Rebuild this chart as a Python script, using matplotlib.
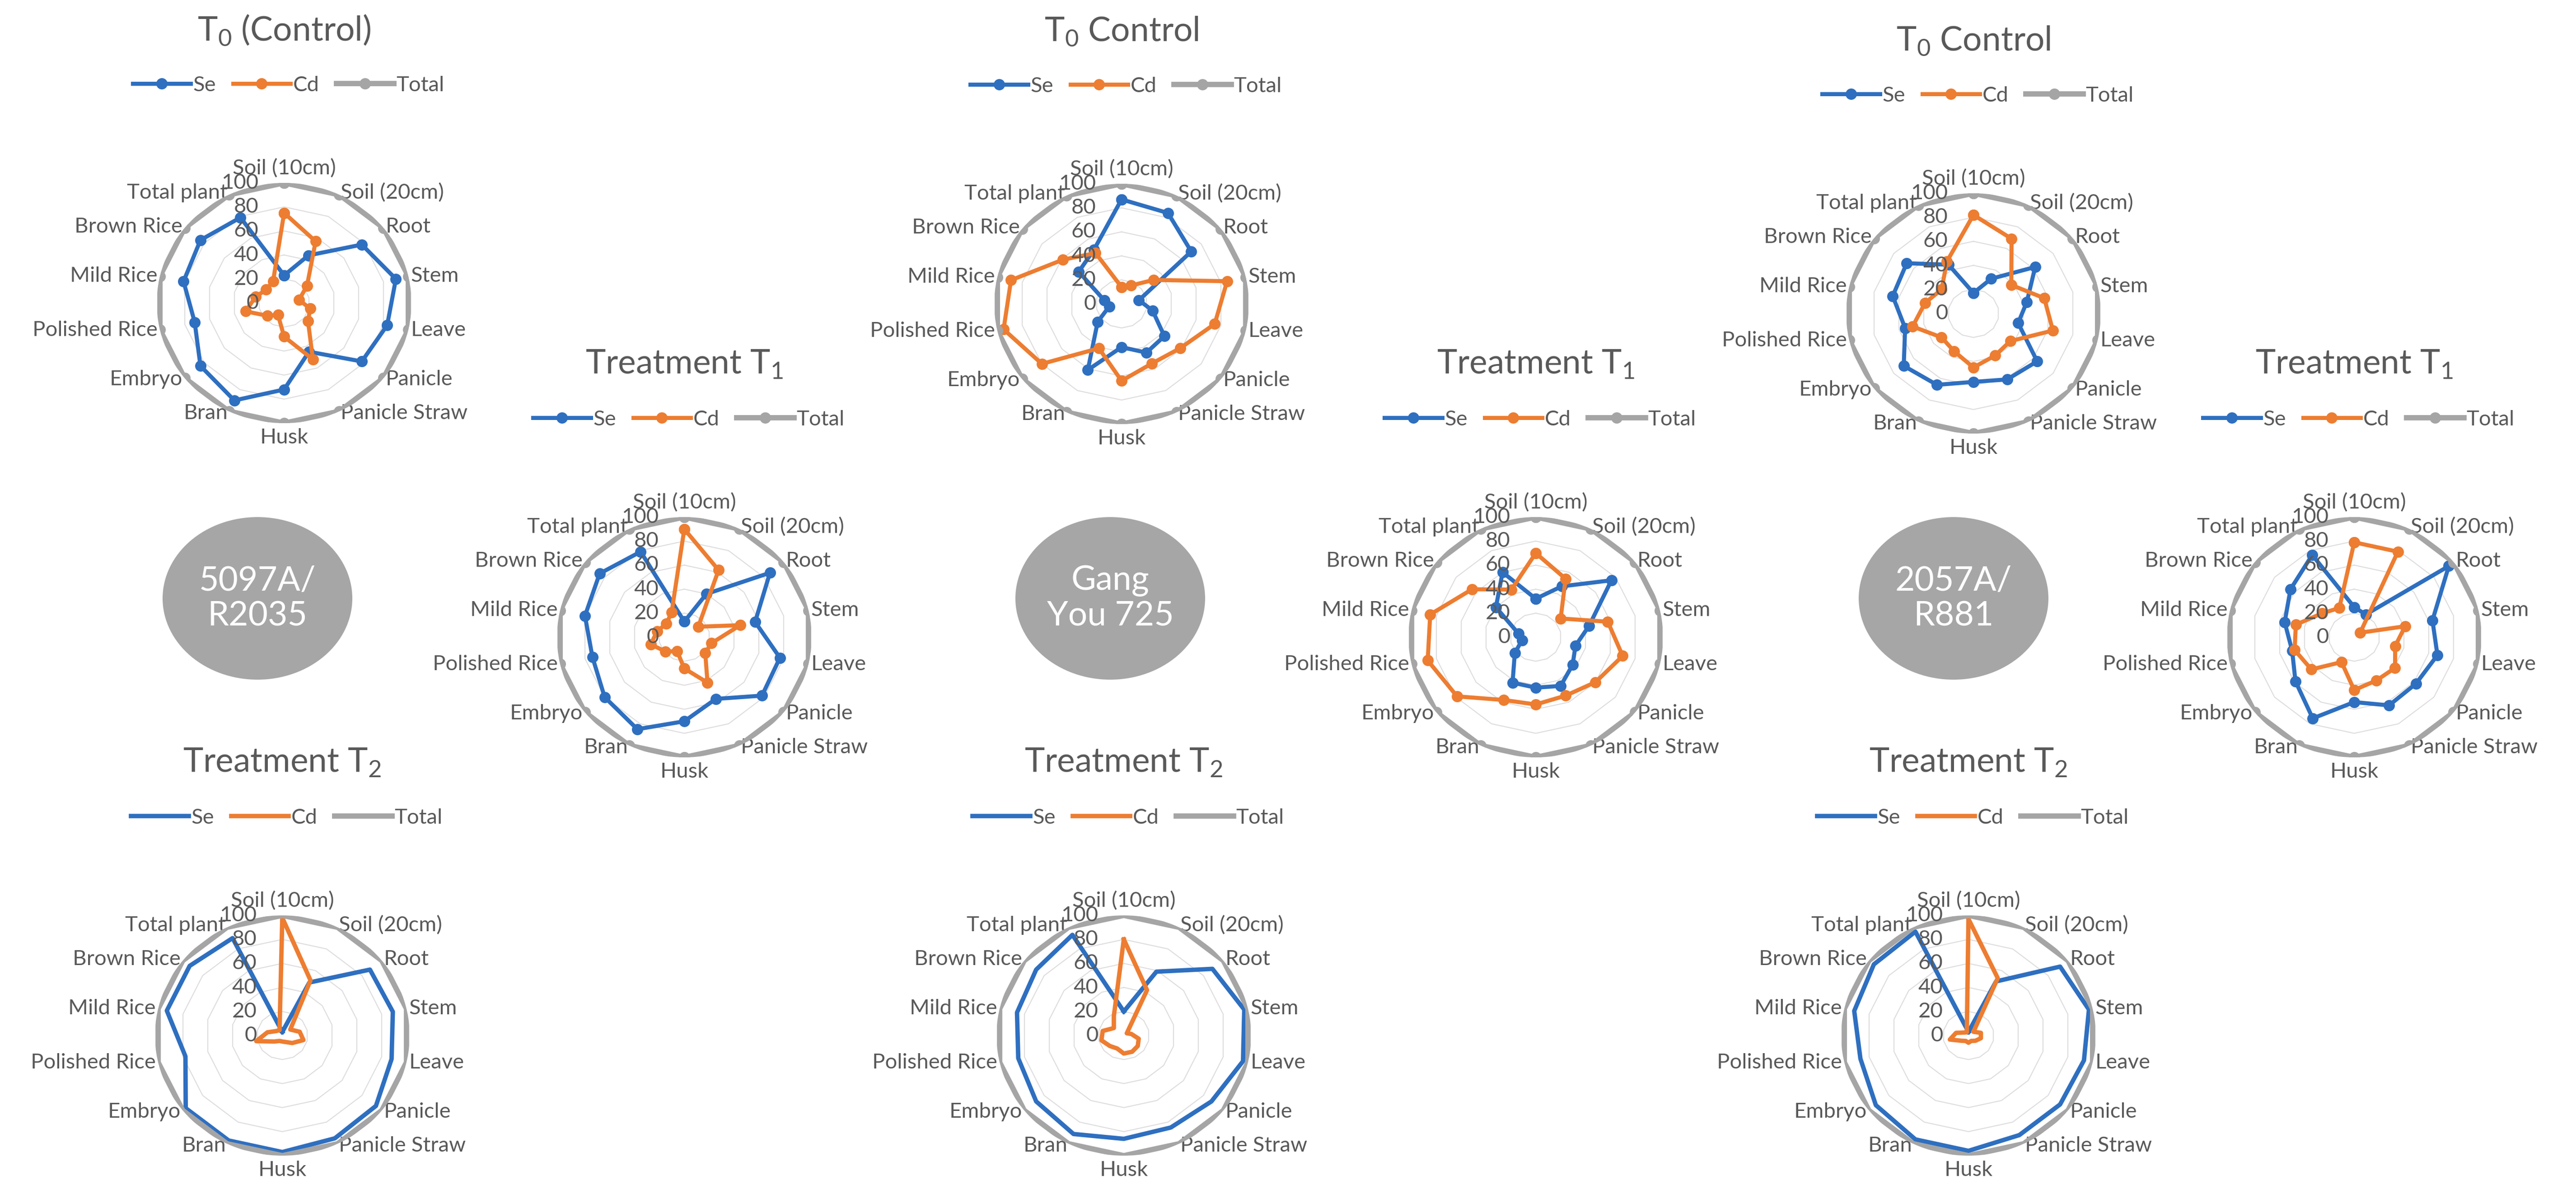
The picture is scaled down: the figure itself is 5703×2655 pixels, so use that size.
import numpy as np
import matplotlib
matplotlib.use('Agg')
import matplotlib.pyplot as plt
from matplotlib.patches import Ellipse

plt.rcParams['font.family'] = ['Lato', 'DejaVu Sans']

# ---------------- data ----------------
categories = ['Soil (10cm)', 'Soil (20cm)', 'Root', 'Stem', 'Leave', 'Panicle',
              'Panicle Straw', 'Husk', 'Bran', 'Embryo', 'Polished Rice',
              'Mild Rice', 'Brown Rice', 'Total plant']
radial_ticks = [0, 20, 40, 60, 80, 100]
series_names = ['Se', 'Cd', 'Total']
varieties = ['5097A/\nR2035', 'Gang\nYou 725', '2057A/\nR881']

# 5097A/R2035
se_5097_t0 = [23, 44, 78, 90, 83, 78, 45, 72, 90, 84, 72, 81, 84, 79]
cd_5097_t0 = [75, 57, 23, 12, 21, 24, 52, 28, 11, 17, 31, 23, 18, 20]
se_5097_t1 = [13, 40, 86, 57, 77, 78, 57, 70, 85, 80, 74, 80, 85, 79]
cd_5097_t1 = [90, 62, 14, 45, 22, 21, 42, 26, 13, 19, 27, 22, 18, 23]
se_5097_t2 = [3, 49, 88, 89, 88, 94, 95, 97, 97, 97, 78, 93, 93, 90]
cd_5097_t2 = [98, 51, 8, 14, 17, 10, 6, 5, 5, 8, 21, 12, 6, 5]
# Gang You 725
se_gy_t0 = [87, 84, 70, 14, 25, 43, 45, 36, 61, 24, 10, 14, 43, 50]
cd_gy_t0 = [14, 17, 32, 85, 75, 59, 55, 64, 41, 80, 95, 89, 59, 47]
se_gy_t1 = [32, 47, 76, 43, 32, 37, 45, 42, 42, 21, 11, 14, 40, 60]
cd_gy_t1 = [70, 54, 25, 58, 70, 60, 54, 56, 58, 79, 87, 85, 64, 44]
se_gy_t2 = [20, 59, 89, 97, 96, 88, 85, 86, 91, 88, 85, 86, 88, 93]
cd_gy_t2 = [80, 42, 3, 6, 12, 14, 15, 15, 12, 14, 18, 17, 10, 18]
# 2057A/R881
se_2057_t0 = [17, 32, 62, 43, 36, 64, 61, 57, 66, 70, 55, 65, 67, 45]
cd_2057_t0 = [82, 69, 38, 57, 64, 37, 39, 45, 35, 32, 49, 39, 32, 48]
se_2057_t1 = [25, 21, 95, 63, 67, 62, 63, 54, 75, 59, 50, 56, 64, 76]
cd_2057_t1 = [79, 79, 6, 41, 33, 41, 40, 44, 23, 43, 48, 47, 32, 27]
se_2057_t2 = [3, 50, 92, 97, 93, 92, 92, 96, 96, 93, 87, 92, 95, 96]
cd_2057_t2 = [97, 53, 5, 10, 10, 7, 5, 6, 5, 7, 15, 10, 4, 3]
total_line = [100] * len(categories)

# ---------------- style ----------------
BLUE = '#2E6FC0'
ORANGE = '#ED7D31'
GRAY = '#A5A5A5'
TXT = '#595959'
GRID = '#DDDDDD'
W, H = 5703, 2655
RX, RY = 282, 266          # pixel half-size of the r=100 ring

fig = plt.figure(figsize=(W / 100, H / 100), dpi=100)

T0a = 'T$_\\mathregular{0}$ (Control)'
T0b = 'T$_\\mathregular{0}$ Control'
T1 = 'Treatment T$_\\mathregular{1}$'
T2 = 'Treatment T$_\\mathregular{2}$'

# (centre x px, centre y px from top, title, se, cd, markers)
panels = [
    (629, 671, T0a, se_5097_t0, cd_5097_t0, True),
    (2483, 673, T0b, se_gy_t0, cd_gy_t0, True),
    (4369, 694, T0b, se_2057_t0, cd_2057_t0, True),
    (1515, 1411, T1, se_5097_t1, cd_5097_t1, True),
    (3400, 1411, T1, se_gy_t1, cd_gy_t1, True),
    (5212, 1411, T1, se_2057_t1, cd_2057_t1, True),
    (625, 2293, T2, se_5097_t2, cd_5097_t2, False),
    (2488, 2293, T2, se_gy_t2, cd_gy_t2, False),
    (4358, 2293, T2, se_2057_t2, cd_2057_t2, False),
]

n = len(categories)
theta = np.linspace(0, 2 * np.pi, n, endpoint=False)
theta_c = np.append(theta, theta[0])

LABEL_FS = 34
for cx, cy, title, se, cd, mk in panels:
    ax = fig.add_axes([(cx - RX) / W, 1 - (cy + RY) / H, 2 * RX / W, 2 * RY / H],
                      projection='polar')
    ax.set_aspect('auto')
    ax.set_theta_zero_location('N')
    ax.set_theta_direction(-1)
    ax.set_ylim(0, 100)
    ax.grid(False)
    ax.set_xticks([])
    ax.set_yticks([])
    ax.spines['polar'].set_visible(False)
    ax.patch.set_alpha(0)

    for r in radial_ticks[1:-1]:
        ax.plot(theta_c, [r] * (n + 1), color=GRID, lw=1.6, zorder=1)

    kw = dict(marker='o', markersize=17) if mk else {}
    lw = 6.5 if mk else 7
    l1, = ax.plot(theta_c, se + se[:1], color=BLUE, lw=lw, zorder=3, **kw)
    l2, = ax.plot(theta_c, cd + cd[:1], color=ORANGE, lw=lw, zorder=3, **kw)
    l3, = ax.plot(theta_c, total_line + total_line[:1], color=GRAY, lw=8.5,
                  zorder=4, **kw)

    for i, cat in enumerate(categories):
        if i == 0:
            ax.text(theta[i], 104, cat, ha='center', va='bottom',
                    fontsize=LABEL_FS, color=TXT)
        elif i == n // 2:
            ax.text(theta[i], 104, cat, ha='center', va='top',
                    fontsize=LABEL_FS, color=TXT)
        elif i < n // 2:
            ax.text(theta[i], 102, cat, ha='left', va='center',
                    fontsize=LABEL_FS, color=TXT)
        else:
            ax.text(theta[i], 102, cat, ha='right', va='center',
                    fontsize=LABEL_FS, color=TXT)

    for v in radial_ticks:
        ax.text(0.40, 0.5 + 0.5 * v / 100, str(v), transform=ax.transAxes,
                ha='right', va='center', fontsize=LABEL_FS, color=TXT, zorder=5)

    fig.text(cx / W, 1 - (cy - 604) / H, title, ha='center', va='center',
             fontsize=54, color=TXT)
    ax.legend([l1, l2, l3], series_names, loc='center',
              bbox_to_anchor=((cx + 10) / W, 1 - (cy - 482) / H),
              bbox_transform=fig.transFigure, ncol=3, frameon=False,
              fontsize=LABEL_FS, handlelength=2.7, handletextpad=0.12,
              columnspacing=0.8, labelcolor=TXT, numpoints=1)

# variety ellipses
ell_pos = [(570, 1325), (2458, 1325), (4325, 1325)]
for (ex, ey), name in zip(ell_pos, varieties):
    fig.add_artist(Ellipse((ex / W, 1 - ey / H), 420 / W, 360 / H,
                           transform=fig.transFigure, facecolor='#A6A6A6',
                           edgecolor='none'))
    fig.text(ex / W, 1 - ey / H, name, ha='center', va='center', fontsize=54,
             color='white', linespacing=1.15)

fig.savefig('out.png', dpi=100, facecolor='white')
